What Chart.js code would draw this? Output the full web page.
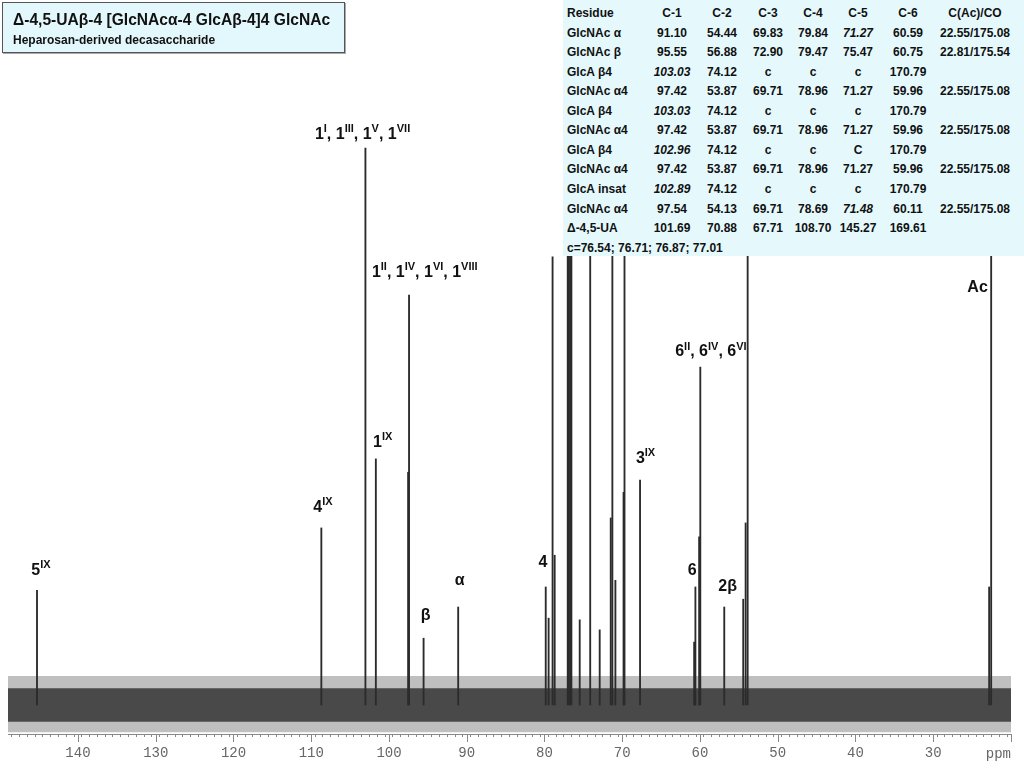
<!DOCTYPE html>
<html>
<head>
<meta charset="utf-8">
<script src="https://cdn.jsdelivr.net/npm/chart.js@4.4.1/dist/chart.umd.min.js"></script>
<style>
  html, body { margin: 0; padding: 0; background: #fff; }
  #wrap { position: relative; width: 1024px; height: 768px; overflow: hidden;
          font-family: "Liberation Sans", Arial, sans-serif; color: #111; }
  #spectrum { position: absolute; left: 0; top: 0; }
  #title { position: absolute; left: 2px; top: 2px; width: 341px; height: 49px;
           background: #e3f8fc; border: 1px solid #555; box-shadow: 1px 1px 0 #aaa; }
  #title .t1 { position: absolute; left: 10px; top: 8px; font-weight: bold; font-size: 15.6px;
               line-height: 18px; white-space: nowrap; }
  #title .t2 { position: absolute; left: 10px; top: 30px; font-weight: bold; font-size: 12px;
               line-height: 14px; white-space: nowrap; }
  #shifts { position: absolute; left: 563px; top: 0; width: 461px; height: 256px; background: #e5f9fd; }
  #shifts .cell { position: absolute; font-weight: bold; font-size: 12px; line-height: 14px;
                  white-space: nowrap; transform: translate(-50%, -50%); }
  #shifts .cell.left { transform: translate(0, -50%); }
  #shifts .cell.it { font-style: italic; }
</style>
</head>
<body>
<div id="wrap">
  <canvas id="spectrum" width="1024" height="768"></canvas>
  <div id="title">
    <div class="t1">Δ-4,5-UAβ-4 [GlcNAcα-4 GlcAβ-4]4 GlcNAc</div>
    <div class="t2">Heparosan-derived decasaccharide</div>
  </div>
  <div id="shifts"></div>
</div>
<script>
// 13C shifts (ppm) and peak intensities (a.u., tallest anomeric peak = 100)
const peakPpm = [
  145.27, 108.70, 103.03, 101.69, 97.54, 97.42, 95.55, 91.10,
  79.84, 79.47, 78.96, 78.69, 77.01, 76.87, 76.71, 76.54, 75.47, 74.12,
  72.90, 71.48, 71.27, 70.88, 69.83, 69.71, 67.71,
  60.75, 60.59, 60.11, 59.96, 56.88, 54.44, 54.13, 53.87,
  22.81, 22.55
]
const peakHeight = [
  20.6, 31.8, 100, 44.2, 41.8, 73.6, 12.0, 17.6,
  21.2, 15.6, 80.5, 26.9, 110, 106, 108, 102, 15.3, 105,
  13.5, 33.6, 110, 22.4, 38.2, 108, 40.4,
  11.3, 21.2, 30.2, 60.7, 17.6, 19.0, 32.7, 110,
  21.2, 110
]

// baseline noise envelope
const noiseEdges = [149, 20]
const noiseOuter = [5.2, -4.9]
const noiseInner = [3.0, -3.0]

const tickValues = [140, 130, 120, 110, 100, 90, 80, 70, 60, 50, 40, 30]

// assignments written over the peaks
const labelText = [
  ['5', 'IX'], ['4', 'IX'], ['1', 'IX'], ['β'], ['α'],
  ['1', 'I', ', 1', 'III', ', 1', 'V', ', 1', 'VII'],
  ['1', 'II', ', 1', 'IV', ', 1', 'VI', ', 1', 'VIII'],
  ['4'], ['3', 'IX'], ['6'], ['2β'], ['6', 'II', ', 6', 'IV', ', 6', 'VI'], ['Ac']
]
const labelPpm = [144.76, 108.5, 100.8, 95.3, 90.9, 103.4, 95.4, 80.2, 67.0, 61.0, 56.45, 58.6, 24.3]
const labelLevel = [24.2, 35.5, 47.2, 16.0, 22.4, 102.5, 77.7, 25.5, 44.3, 24.1, 21.2, 63.4, 75.0]

// assignment table
const headers = ['Residue', 'C-1', 'C-2', 'C-3', 'C-4', 'C-5', 'C-6', 'C(Ac)/CO']
const residues = ['GlcNAc α', 'GlcNAc β', 'GlcA β4', 'GlcNAc α4', 'GlcA β4', 'GlcNAc α4',
  'GlcA β4', 'GlcNAc α4', 'GlcA insat', 'GlcNAc α4', 'Δ-4,5-UA']
const c1 = ['91.10', '95.55', '103.03', '97.42', '103.03', '97.42', '102.96', '97.42', '102.89', '97.54', '101.69']
const c2 = ['54.44', '56.88', '74.12', '53.87', '74.12', '53.87', '74.12', '53.87', '74.12', '54.13', '70.88']
const c3 = ['69.83', '72.90', 'c', '69.71', 'c', '69.71', 'c', '69.71', 'c', '69.71', '67.71']
const c4 = ['79.84', '79.47', 'c', '78.96', 'c', '78.96', 'c', '78.96', 'c', '78.69', '108.70']
const c5 = ['71.27', '75.47', 'c', '71.27', 'c', '71.27', 'C', '71.27', 'c', '71.48', '145.27']
const c6 = ['60.59', '60.75', '170.79', '59.96', '170.79', '59.96', '170.79', '59.96', '170.79', '60.11', '169.61']
const acCo = ['22.55/175.08', '22.81/175.54', '', '22.55/175.08', '', '22.55/175.08', '',
  '22.55/175.08', '', '22.55/175.08', '']
const cNote = 'c=76.54; 76.71; 76.87; 77.01'
const italicCells = ['2,1', '4,1', '6,1', '8,1', '0,5', '9,5']

;(() => {
  'use strict'

  // table
  const box = document.getElementById('shifts')
  const colX = [4, 109, 159, 205, 250, 295, 345, 412]
  const rowY = r => 13 + r * 19.55
  const addCell = (text, col, r, italic) => {
    const d = document.createElement('div')
    d.className = 'cell' + (col === 0 ? ' left' : '') + (italic ? ' it' : '')
    d.style.left = colX[col] + 'px'
    d.style.top = rowY(r) + 'px'
    d.textContent = text
    box.appendChild(d)
  }
  headers.forEach((h, i) => addCell(h, i, 0, false))
  const cols = [residues, c1, c2, c3, c4, c5, c6, acCo]
  residues.forEach((_, r) => {
    cols.forEach((col, i) => addCell(col[r], i, r + 1, italicCells.includes(r + ',' + i)))
  })
  addCell(cNote, 0, residues.length + 1, false)

  const LABEL_FONT = 'bold 16px "Liberation Sans", Arial, sans-serif'
  const SUP_FONT = 'bold 11px "Liberation Sans", Arial, sans-serif'

  const annotate = {
    id: 'annotate',
    afterDraw (chart) {
      const { ctx, chartArea, scales: { x, y } } = chart
      ctx.save()
      // longer ticks at the labelled positions and the right end
      ctx.strokeStyle = '#888'
      ctx.lineWidth = 1
      tickValues.concat([20]).forEach(v => {
        const px = Math.round(x.getPixelForValue(v)) + 0.5
        ctx.beginPath()
        ctx.moveTo(px, chartArea.bottom)
        ctx.lineTo(px, chartArea.bottom + 8)
        ctx.stroke()
      })
      ctx.fillStyle = '#666'
      ctx.font = '14px "Liberation Mono", monospace'
      ctx.textAlign = 'right'
      ctx.textBaseline = 'middle'
      ctx.fillText('ppm', chartArea.right, chartArea.bottom + 20)

      // peak assignments
      ctx.fillStyle = '#111'
      ctx.textAlign = 'left'
      labelText.forEach((parts, k) => {
        let w = 0
        parts.forEach((p, i) => {
          ctx.font = i % 2 ? SUP_FONT : LABEL_FONT
          w += ctx.measureText(p).width
        })
        let cx = x.getPixelForValue(labelPpm[k]) - w / 2
        const cy = y.getPixelForValue(labelLevel[k])
        parts.forEach((p, i) => {
          ctx.font = i % 2 ? SUP_FONT : LABEL_FONT
          ctx.fillText(p, cx, i % 2 ? cy - 5 : cy)
          cx += ctx.measureText(p).width
        })
      })
      ctx.restore()
    }
  }

  const band = (vals) => noiseEdges.map((e, i) => ({ x: e, y: vals[i] }))

  // eslint-disable-next-line no-unused-vars
  const spectrum = new Chart(document.getElementById('spectrum'), {
    type: 'bar',
    data: {
      datasets: [{
        data: peakPpm.map((p, i) => ({ x: p, y: peakHeight[i] })),
        backgroundColor: '#2b2b2b',
        borderWidth: 0,
        barThickness: 1.2,
        order: 0
      }, {
        type: 'line',
        data: band([noiseOuter[0], noiseOuter[0]]),
        borderWidth: 0,
        pointRadius: 0,
        fill: false,
        order: 3
      }, {
        type: 'line',
        data: band([noiseOuter[1], noiseOuter[1]]),
        borderWidth: 0,
        pointRadius: 0,
        backgroundColor: 'rgba(0,0,0,0.25)',
        fill: '-1',
        order: 2
      }, {
        type: 'line',
        data: band([noiseInner[0], noiseInner[0]]),
        borderWidth: 0,
        pointRadius: 0,
        fill: false,
        order: 3
      }, {
        type: 'line',
        data: band([noiseInner[1], noiseInner[1]]),
        borderWidth: 0,
        pointRadius: 0,
        backgroundColor: 'rgba(0,0,0,0.62)',
        fill: '-1',
        order: 1
      }]
    },
    options: {
      responsive: false,
      animation: false,
      layout: { padding: { left: 7, right: 13, top: 0, bottom: 0 } },
      plugins: {
        legend: { display: false },
        tooltip: { enabled: false }
      },
      scales: {
        x: {
          type: 'linear',
          reverse: true,
          min: 20,
          max: 149,
          offset: false,
          afterFit: s => { s.height = 34 },
          border: { display: true, color: '#888', width: 1 },
          grid: { drawOnChartArea: false, drawTicks: true, tickLength: 3, color: '#888', tickColor: '#888' },
          ticks: {
            stepSize: 1,
            maxTicksLimit: 200,
            autoSkip: false,
            includeBounds: false,
            maxRotation: 0,
            padding: 8,
            color: '#666',
            font: { family: '"Liberation Mono", monospace', size: 14 },
            callback: v => tickValues.includes(Math.round(v)) && Math.abs(v - Math.round(v)) < 1e-6 ? String(Math.round(v)) : ''
          }
        },
        y: { display: false, min: -5.2, max: 126.6 }
      }
    },
    plugins: [annotate]
  })
})()
</script>
</body>
</html>
